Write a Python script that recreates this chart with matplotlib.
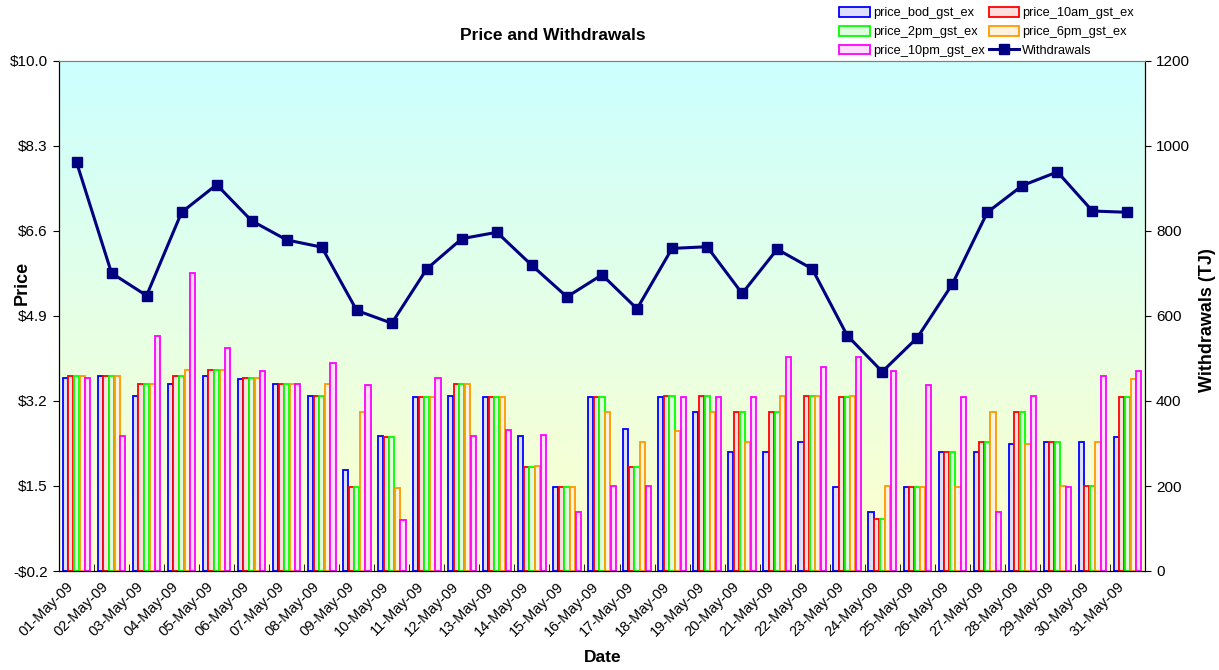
# -*- coding: utf-8 -*-

import matplotlib
matplotlib.use('Agg')
import matplotlib.pyplot as plt
import matplotlib.transforms as mtransforms
import numpy as np
from matplotlib.colors import to_rgb

plt.rcParams['font.family'] = ['Liberation Sans', 'DejaVu Sans']

dates = ['%02d-May-09' % d for d in range(1, 32)]

price_bod = [3.67, 3.71, 3.30, 3.55, 3.71, 3.65, 3.55, 3.30, 1.83, 2.51,
             3.29, 3.30, 3.29, 2.51, 1.49, 3.29, 2.65, 3.29, 2.99, 2.19,
             2.19, 2.39, 1.49, 0.99, 1.49, 2.19, 2.19, 2.34, 2.39, 2.39, 2.49]
price_10am = [3.71, 3.71, 3.55, 3.71, 3.83, 3.67, 3.55, 3.30, 1.48, 2.49,
              3.29, 3.55, 3.29, 1.89, 1.49, 3.29, 1.89, 3.31, 3.31, 2.99,
              2.99, 3.30, 3.29, 0.84, 1.49, 2.19, 2.39, 2.99, 2.39, 1.51, 3.29]
price_2pm = [3.71, 3.71, 3.55, 3.71, 3.83, 3.67, 3.55, 3.30, 1.48, 2.49,
             3.29, 3.55, 3.29, 1.89, 1.49, 3.29, 1.89, 3.31, 3.31, 2.99,
             2.99, 3.30, 3.29, 0.84, 1.49, 2.19, 2.39, 2.99, 2.39, 1.51, 3.29]
price_6pm = [3.71, 3.71, 3.55, 3.83, 3.83, 3.67, 3.55, 3.55, 2.99, 1.47,
             3.29, 3.55, 3.29, 1.90, 1.49, 2.99, 2.39, 2.61, 2.99, 2.39,
             3.30, 3.30, 3.30, 1.51, 1.49, 1.49, 2.99, 2.34, 1.51, 2.39, 3.65]
price_10pm = [3.67, 2.50, 4.50, 5.76, 4.27, 3.81, 3.55, 3.97, 3.53, 0.83,
              3.67, 2.51, 2.62, 2.53, 0.99, 1.51, 1.51, 3.29, 3.29, 3.29,
              4.07, 3.87, 4.07, 3.80, 3.53, 3.29, 0.99, 3.31, 1.49, 3.71, 3.81]
withdrawals = [962, 701, 648, 844, 909, 824, 779, 762, 613, 583,
               711, 782, 797, 719, 645, 697, 617, 759, 763, 653,
               757, 711, 554, 469, 549, 675, 844, 907, 939, 847, 844]

price_ticks = [-0.2, 1.5, 3.2, 4.9, 6.6, 8.3, 10.0]
price_tick_labels = ['-$0.2', '$1.5', '$3.2', '$4.9', '$6.6', '$8.3', '$10.0']
wd_ticks = [0, 200, 400, 600, 800, 1000, 1200]

series = [('price_bod_gst_ex', price_bod, '#0000FF'),
          ('price_10am_gst_ex', price_10am, '#FF0000'),
          ('price_2pm_gst_ex', price_2pm, '#00FF00'),
          ('price_6pm_gst_ex', price_6pm, '#FF9900'),
          ('price_10pm_gst_ex', price_10pm, '#FF00FF')]

def pale(c, k=0.87):
    r, g, b = to_rgb(c)
    return (r + (1 - r) * k, g + (1 - g) * k, b + (1 - b) * k)

fig = plt.figure(figsize=(12.19, 6.70), dpi=100)
ax = fig.add_axes([59 / 1219, 1 - 571 / 670, (1145 - 59) / 1219, 510 / 670])

n = len(dates)
x = np.arange(n)
ymin, ymax = -0.2, 10.0

# background gradient, cyan at top to pale yellow at bottom
top = np.array(to_rgb('#CCFFFF'))
bot = np.array(to_rgb('#FFFFCC'))
t = np.linspace(0, 1, 256)[:, None]
grad = (top * (1 - t) + bot * t)[:, None, :]
ax.imshow(grad, extent=[-0.5, n - 0.5, ymin, ymax], aspect='auto', zorder=0)

bw = 0.16
handles = []
for i, (name, vals, col) in enumerate(series):
    vals = np.array(vals)
    b = ax.bar(x + (i - 2) * bw, vals - ymin, bw * 0.92, bottom=ymin,
               facecolor=pale(col), edgecolor=col, linewidth=1.3,
               label=name, zorder=2)
    handles.append(b)

ax.set_xlim(-0.5, n - 0.5)
ax.set_ylim(ymin, ymax)
ax.set_yticks(price_ticks)
ax.set_yticklabels(price_tick_labels, fontsize=11)
ax.set_xticks(x)
ax.set_xticklabels(dates, rotation=45, ha='right', rotation_mode='anchor',
                   fontsize=10.5)
ax.tick_params(axis='x', length=0, pad=6)
shift = mtransforms.ScaledTranslation(-10 / 100, 0, fig.dpi_scale_trans)
for lab in ax.get_xticklabels():
    lab.set_transform(lab.get_transform() + shift)
ax.set_xticks(np.arange(n + 1) - 0.5, minor=True)
ax.tick_params(axis='x', which='minor', direction='in', length=5)
ax.tick_params(axis='y', direction='out', length=4, pad=4)
ax.spines['top'].set_color('#808080')

ax2 = ax.twinx()
ax2.set_ylim(0, 1200)
ax2.set_yticks(wd_ticks)
ax2.tick_params(axis='y', labelsize=11, direction='out', length=4, pad=4)
ax2.spines['top'].set_color('#808080')
line, = ax2.plot(x, withdrawals, color='#000080', linewidth=2.2,
                 marker='s', markersize=7, label='Withdrawals', zorder=5)

fig.text(553 / 1219, 1 - 35 / 670, 'Price and Withdrawals', ha='center',
         va='center', fontsize=12.5, fontweight='bold')
fig.text(22 / 1219, 1 - 283 / 670, 'Price', rotation=90, ha='center',
         va='center', fontsize=13, fontweight='bold')
fig.text(1207 / 1219, 1 - 320 / 670, 'Withdrawals (TJ)', rotation=90,
         ha='center', va='center', fontsize=13, fontweight='bold')
fig.text(603 / 1219, 1 - 657 / 670, 'Date', ha='center', va='center',
         fontsize=12.5, fontweight='bold')

leg_handles = [handles[0], handles[2], handles[4], handles[1], handles[3], line]
fig.legend(leg_handles, [h.get_label() for h in leg_handles], ncol=2,
           loc='upper left', bbox_to_anchor=(834 / 1219, 1 - 2 / 670),
           frameon=False, fontsize=9.2, handlelength=2.4, handleheight=0.8,
           labelspacing=0.5, columnspacing=0.3, handletextpad=0.25,
           borderaxespad=0)

fig.savefig('out.png', dpi=100)
